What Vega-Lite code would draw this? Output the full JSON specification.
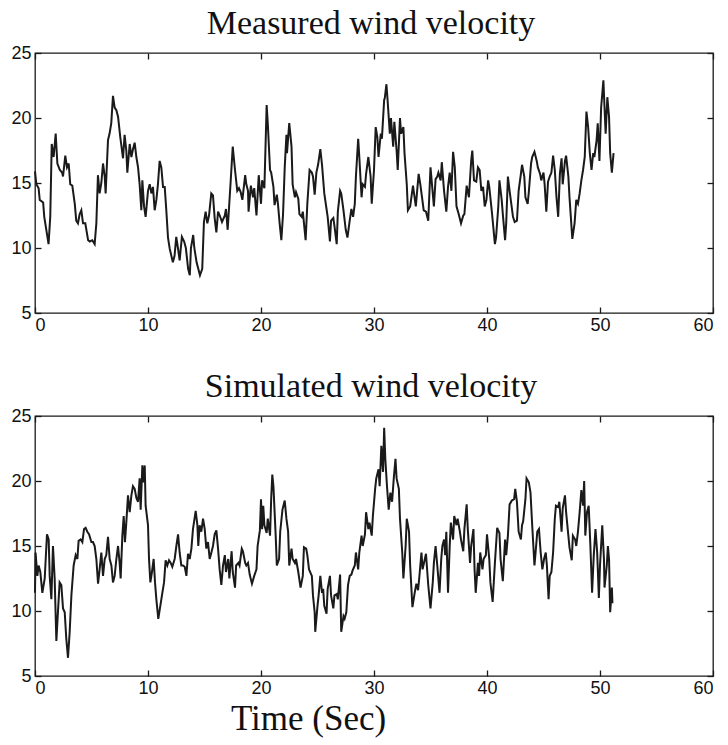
{
  "$schema": "https://vega.github.io/schema/vega-lite/v6.json",
  "background": "white",
  "padding": {"left": 10, "top": 6, "right": 8, "bottom": 5},
  "config": {
    "view": {"stroke": "#1a1a1a", "strokeWidth": 1.3},
    "axis": {"grid": false, "domain": false, "tickColor": "#1a1a1a", "tickSize": -6, "tickWidth": 1.3, "labelFont": "Liberation Sans", "labelFontSize": 18, "labelColor": "#111", "titleFont": "Liberation Serif", "titleFontSize": 35, "titleFontWeight": "normal", "titleColor": "#111"},
    "title": {"font": "Liberation Serif", "fontSize": 34, "fontWeight": "normal", "color": "#111", "offset": 3, "dx": -3},
    "concat": {"spacing": 34}
  },
  "datasets": {
    "measured": [
      {"t":0,"v":15.9},{"t":0.12,"v":14.9},{"t":0.32,"v":14.6},{"t":0.42,"v":13.7},{"t":0.72,"v":13.5},{"t":0.82,"v":12.4},{"t":1.2,"v":10.3},{"t":1.35,"v":12.4},{"t":1.48,"v":18.0},{"t":1.65,"v":17.0},{"t":1.83,"v":18.8},{"t":1.98,"v":16.5},{"t":2.2,"v":16.0},{"t":2.4,"v":15.8},{"t":2.48,"v":15.5},{"t":2.68,"v":17.1},{"t":2.83,"v":16.2},{"t":2.98,"v":16.5},{"t":3.12,"v":14.9},{"t":3.3,"v":14.8},{"t":3.52,"v":13.4},{"t":3.65,"v":12.1},{"t":3.8,"v":11.9},{"t":3.95,"v":12.6},{"t":4.1,"v":12.9},{"t":4.25,"v":11.9},{"t":4.45,"v":11.9},{"t":4.7,"v":10.6},{"t":4.85,"v":10.5},{"t":5.07,"v":10.6},{"t":5.28,"v":10.3},{"t":5.43,"v":11.9},{"t":5.57,"v":15.6},{"t":5.72,"v":14.2},{"t":5.87,"v":15.0},{"t":6.02,"v":16.5},{"t":6.17,"v":15.5},{"t":6.25,"v":14.2},{"t":6.46,"v":18.3},{"t":6.6,"v":18.8},{"t":6.75,"v":19.6},{"t":6.9,"v":21.7},{"t":7.05,"v":20.8},{"t":7.2,"v":20.6},{"t":7.35,"v":20.1},{"t":7.55,"v":18.5},{"t":7.79,"v":16.9},{"t":7.93,"v":18.7},{"t":8.08,"v":17.5},{"t":8.17,"v":15.8},{"t":8.38,"v":18.0},{"t":8.53,"v":17.0},{"t":8.67,"v":17.6},{"t":8.82,"v":18.1},{"t":8.97,"v":17.0},{"t":9.12,"v":16.2},{"t":9.26,"v":14.9},{"t":9.41,"v":12.9},{"t":9.5,"v":15.2},{"t":9.65,"v":13.2},{"t":9.79,"v":12.4},{"t":10.0,"v":14.4},{"t":10.15,"v":14.9},{"t":10.3,"v":14.2},{"t":10.44,"v":14.7},{"t":10.59,"v":12.9},{"t":10.74,"v":13.7},{"t":10.88,"v":14.9},{"t":11.03,"v":16.7},{"t":11.18,"v":16.2},{"t":11.33,"v":14.7},{"t":11.48,"v":14.7},{"t":11.62,"v":12.9},{"t":11.77,"v":10.8},{"t":11.92,"v":9.95},
      {"t":12.2,"v":8.9},{"t":12.35,"v":9.4},{"t":12.5,"v":10.85},{"t":12.65,"v":10.0},{"t":12.8,"v":9.05},{"t":13.0,"v":10.85},{"t":13.2,"v":10.5},{"t":13.35,"v":10.0},{"t":13.55,"v":8.4},{"t":13.7,"v":7.9},{"t":13.8,"v":10.0},{"t":14.0,"v":11.0},{"t":14.1,"v":10.0},{"t":14.3,"v":8.9},{"t":14.6,"v":7.9},{"t":14.8,"v":8.4},{"t":14.95,"v":12.0},{"t":15.1,"v":12.8},{"t":15.25,"v":11.9},{"t":15.4,"v":12.5},{"t":15.6,"v":14.2},{"t":15.75,"v":14.05},{"t":15.9,"v":12.3},{"t":16.05,"v":11.2},{"t":16.2,"v":12.8},{"t":16.35,"v":12.5},{"t":16.55,"v":12.0},{"t":16.8,"v":12.5},
      {"t":16.9,"v":13.0},{"t":17.05,"v":11.4},{"t":17.3,"v":14.9},{"t":17.5,"v":17.8},{"t":17.7,"v":16.0},{"t":17.9,"v":14.4},{"t":18.05,"v":14.6},{"t":18.2,"v":14.3},{"t":18.35,"v":13.7},{"t":18.6,"v":15.6},{"t":18.7,"v":14.9},{"t":18.85,"v":14.4},{"t":18.9,"v":12.8},{"t":19.1,"v":14.8},{"t":19.3,"v":13.9},{"t":19.4,"v":14.6},{"t":19.6,"v":12.5},{"t":19.8,"v":15.6},{"t":20.0,"v":13.4},{"t":20.1,"v":15.2},{"t":20.3,"v":14.6},{"t":20.5,"v":21.0},{"t":20.6,"v":19.6},{"t":20.8,"v":16.0},{"t":20.9,"v":15.8},{"t":21.1,"v":14.7},{"t":21.2,"v":13.3},{"t":21.4,"v":14.1},{"t":21.5,"v":13.4},{"t":21.65,"v":11.9},{"t":21.8,"v":10.6},{"t":21.95,"v":12.6},{"t":22.1,"v":16.2},{"t":22.25,"v":18.7},{"t":22.3,"v":17.3},{"t":22.5,"v":19.6},{"t":22.7,"v":17.8},{"t":22.8,"v":14.9},{"t":23.0,"v":13.9},{"t":23.1,"v":14.3},{"t":23.3,"v":13.8},{"t":23.4,"v":12.6},{"t":23.6,"v":12.4},{"t":23.7,"v":12.8},{"t":23.95,"v":10.6},{"t":24.1,"v":13.4},{"t":24.3,"v":16.0},{"t":24.5,"v":15.8},{"t":24.6,"v":15.5},{"t":24.75,"v":14.1},{"t":24.9,"v":15.8},{"t":25.05,"v":16.4},{"t":25.25,"v":17.6},{"t":25.4,"v":16.4},{"t":25.6,"v":14.2},{"t":25.8,"v":13.0},{"t":25.9,"v":12.4},{"t":26.1,"v":10.5},{"t":26.2,"v":12.1},{"t":26.4,"v":12.3},{"t":26.5,"v":11.7},{"t":26.7,"v":10.3},{"t":26.8,"v":12.8},{"t":27.0,"v":14.4},{"t":27.1,"v":14.2},{"t":27.3,"v":12.9},{"t":27.5,"v":11.4},{"t":27.65,"v":10.8},{"t":27.85,"v":12.1},{"t":28.0,"v":13.0},{"t":28.15,"v":12.4},{"t":28.3,"v":13.4},{"t":28.4,"v":15.5},{"t":28.6,"v":18.4},{"t":28.7,"v":17.0},{"t":28.9,"v":13.9},{"t":29.0,"v":14.9},{"t":29.2,"v":14.7},{"t":29.3,"v":15.7},{"t":29.5,"v":17.0},{"t":29.7,"v":15.5},{"t":29.8,"v":13.4},{"t":30.0,"v":16.0},{"t":30.15,"v":19.3},{"t":30.3,"v":18.5},{"t":30.4,"v":17.0},{"t":30.6,"v":18.8},{"t":30.7,"v":18.4},{"t":30.9,"v":21.4},{"t":30.95,"v":21.5},{"t":31.1,"v":22.6},{"t":31.2,"v":21.4},{"t":31.4,"v":18.8},{"t":31.5,"v":20.0},{"t":31.7,"v":17.8},{"t":31.8,"v":19.7},{"t":32.0,"v":17.5},{"t":32.1,"v":16.0},{"t":32.3,"v":20.0},{"t":32.4,"v":18.8},{"t":32.6,"v":19.3},{"t":32.7,"v":17.3},{"t":32.9,"v":14.9},{"t":33.0,"v":12.9},{"t":33.2,"v":13.2},
      {"t":33.45,"v":14.8},{"t":33.7,"v":13.2},{"t":33.95,"v":15.7},{"t":34.1,"v":14.9},{"t":34.25,"v":13.9},{"t":34.4,"v":12.9},{"t":34.6,"v":12.8},{"t":34.8,"v":12.1},{"t":35.0,"v":16.2},{"t":35.1,"v":15.2},{"t":35.3,"v":13.2},{"t":35.45,"v":15.3},{"t":35.6,"v":15.5},{"t":35.7,"v":15.8},{"t":35.9,"v":15.2},{"t":36.0,"v":16.6},{"t":36.2,"v":14.4},{"t":36.4,"v":12.8},{"t":36.55,"v":14.7},{"t":36.7,"v":15.8},{"t":36.85,"v":14.4},{"t":37.0,"v":17.4},{"t":37.15,"v":16.2},{"t":37.3,"v":13.2},{"t":37.5,"v":12.6},{"t":37.7,"v":11.9},{"t":37.9,"v":12.5},{"t":38.0,"v":12.6},{"t":38.2,"v":14.8},{"t":38.4,"v":13.9},{"t":38.6,"v":16.7},{"t":38.7,"v":17.5},{"t":38.85,"v":15.2},{"t":39.05,"v":15.1},{"t":39.2,"v":16.2},{"t":39.35,"v":16.0},{"t":39.5,"v":14.4},{"t":39.65,"v":14.7},{"t":39.8,"v":13.2},{"t":39.95,"v":13.7},{"t":40.1,"v":15.2},{"t":40.2,"v":14.7},{"t":40.45,"v":12.6},{"t":40.7,"v":10.3},{"t":40.8,"v":10.8},{"t":41.0,"v":13.2},{"t":41.1,"v":15.2},{"t":41.3,"v":13.7},{"t":41.4,"v":12.6},{"t":41.6,"v":10.6},{"t":41.7,"v":11.9},{"t":41.85,"v":15.5},{"t":42.0,"v":14.4},{"t":42.15,"v":13.4},{"t":42.3,"v":12.4},{"t":42.45,"v":12.0},{"t":42.65,"v":12.1},{"t":42.8,"v":14.4},{"t":43.0,"v":15.7},{"t":43.1,"v":16.4},{"t":43.3,"v":15.5},{"t":43.4,"v":13.9},{"t":43.6,"v":13.4},{"t":43.7,"v":14.3},{"t":43.9,"v":16.5},{"t":44.0,"v":17.0},{"t":44.2,"v":17.4},{"t":44.4,"v":16.7},{"t":44.5,"v":16.2},{"t":44.7,"v":15.7},{"t":44.8,"v":15.2},{"t":45.0,"v":15.8},{"t":45.1,"v":14.9},{"t":45.25,"v":12.8},{"t":45.4,"v":15.1},{"t":45.55,"v":15.5},{"t":45.7,"v":15.8},{"t":45.85,"v":17.1},{"t":46.0,"v":16.0},{"t":46.15,"v":13.9},{"t":46.3,"v":12.4},{"t":46.45,"v":15.7},{"t":46.6,"v":16.9},{"t":46.7,"v":14.9},{"t":46.9,"v":16.7},{"t":47.0,"v":17.1},{"t":47.2,"v":15.5},{"t":47.3,"v":13.9},{"t":47.55,"v":10.7},{"t":47.75,"v":11.9},{"t":47.9,"v":13.7},{"t":48.05,"v":13.4},{"t":48.2,"v":14.2},{"t":48.35,"v":15.2},{"t":48.5,"v":16.0},{"t":48.65,"v":17.0},{"t":48.8,"v":20.5},{"t":48.95,"v":19.3},{"t":49.1,"v":17.3},{"t":49.25,"v":16.0},{"t":49.4,"v":17.3},{"t":49.5,"v":17.0},{"t":49.7,"v":18.3},{"t":49.8,"v":19.6},{"t":49.95,"v":16.7},{"t":50.1,"v":20.8},{"t":50.3,"v":22.9},{"t":50.4,"v":20.8},{"t":50.5,"v":18.8},{"t":50.65,"v":21.6},{"t":50.8,"v":20.1},{"t":50.9,"v":17.3},{"t":51.05,"v":15.8},{"t":51.2,"v":17.3}
    ],
    "simulated": [
      {"t":0,"v":11.4},{"t":0.05,"v":14.5},{"t":0.12,"v":13.7},{"t":0.21,"v":12.7},{"t":0.32,"v":13.5},{"t":0.47,"v":13.0},{"t":0.65,"v":11.4},{"t":0.86,"v":12.5},{"t":1.06,"v":15.9},{"t":1.21,"v":15.5},{"t":1.3,"v":12.7},{"t":1.45,"v":10.9},{"t":1.59,"v":15.0},{"t":1.74,"v":12.5},{"t":1.89,"v":7.7},{"t":2.03,"v":9.9},{"t":2.18,"v":12.2},{"t":2.33,"v":12.0},{"t":2.48,"v":10.2},{"t":2.63,"v":9.9},{"t":2.77,"v":7.85},{"t":2.92,"v":6.4},{"t":3.07,"v":8.4},{"t":3.22,"v":11.2},{"t":3.42,"v":13.5},{"t":3.6,"v":14.3},{"t":3.75,"v":14.0},{"t":3.86,"v":15.4},{"t":4.04,"v":15.5},{"t":4.19,"v":15.3},{"t":4.34,"v":16.3},{"t":4.48,"v":16.4},{"t":4.63,"v":16.1},{"t":4.78,"v":15.9},{"t":4.99,"v":15.3},{"t":5.13,"v":15.3},{"t":5.28,"v":15.0},{"t":5.43,"v":14.0},{"t":5.58,"v":12.1},{"t":5.72,"v":13.2},{"t":5.87,"v":14.5},{"t":6.02,"v":12.7},{"t":6.17,"v":14.0},{"t":6.31,"v":14.3},{"t":6.46,"v":15.7},{"t":6.61,"v":14.0},{"t":6.76,"v":13.5},{"t":6.9,"v":12.2},{"t":7.05,"v":12.7},{"t":7.2,"v":14.0},{"t":7.35,"v":15.0},{"t":7.49,"v":13.7},{"t":7.58,"v":12.5},{"t":7.73,"v":15.8},{"t":7.85,"v":17.3},{"t":7.96,"v":15.3},{"t":8.08,"v":16.8},{"t":8.23,"v":18.9},{"t":8.38,"v":17.6},{"t":8.53,"v":18.9},{"t":8.67,"v":19.6},{"t":8.82,"v":19.4},{"t":8.97,"v":18.7},{"t":9.12,"v":18.4},{"t":9.26,"v":20.2},{"t":9.35,"v":17.8},{"t":9.5,"v":21.2},{"t":9.62,"v":19.9},{"t":9.71,"v":21.2},{"t":9.79,"v":18.1},{"t":10.0,"v":16.6},{"t":10.09,"v":14.0},{"t":10.21,"v":12.2},{"t":10.35,"v":13.0},{"t":10.5,"v":14.0},{"t":10.62,"v":12.2},{"t":10.74,"v":10.9},{"t":10.91,"v":9.4},{"t":11.09,"v":10.4},{"t":11.27,"v":11.4},{"t":11.42,"v":12.2},{"t":11.56,"v":13.9},{"t":11.71,"v":13.5},{"t":11.86,"v":13.9},{"t":12.01,"v":13.7},{"t":12.15,"v":13.4},{"t":12.36,"v":14.0},{"t":12.51,"v":15.0},{"t":12.66,"v":15.9},{"t":12.8,"v":14.5},{"t":12.95,"v":13.5},{"t":13.1,"v":13.5},{"t":13.25,"v":13.4},{"t":13.4,"v":12.7},{"t":13.54,"v":14.4},{"t":13.69,"v":14.0},{"t":13.84,"v":14.8},{"t":13.98,"v":16.3},{"t":14.22,"v":17.7},{"t":14.37,"v":16.6},{"t":14.45,"v":15.0},{"t":14.57,"v":16.6},{"t":14.72,"v":16.1},{"t":14.87,"v":17.1},{"t":15.02,"v":16.3},{"t":15.16,"v":14.8},{"t":15.31,"v":15.3},{"t":15.46,"v":14.0},{"t":15.61,"v":14.5},{"t":15.75,"v":15.0},{"t":15.9,"v":15.9},{"t":16.05,"v":16.2},{"t":16.2,"v":14.8},{"t":16.34,"v":13.2},{"t":16.49,"v":12.0},
      {"t":16.64,"v":13.5},{"t":16.8,"v":14.3},{"t":16.9,"v":13.0},{"t":17.1,"v":14.0},{"t":17.2,"v":12.5},{"t":17.4,"v":14.6},{"t":17.5,"v":13.0},{"t":17.7,"v":11.8},{"t":17.8,"v":13.5},{"t":18.0,"v":13.7},{"t":18.1,"v":13.5},{"t":18.3,"v":14.8},{"t":18.4,"v":14.6},{"t":18.6,"v":13.7},{"t":18.7,"v":13.5},{"t":18.85,"v":13.7},{"t":19.0,"v":12.8},{"t":19.2,"v":12.1},{"t":19.4,"v":12.7},{"t":19.6,"v":13.2},{"t":19.7,"v":15.0},{"t":19.9,"v":16.2},{"t":20.0,"v":18.6},{"t":20.1,"v":16.3},{"t":20.2,"v":18.1},{"t":20.3,"v":16.6},{"t":20.5,"v":16.0},{"t":20.6,"v":17.1},{"t":20.8,"v":15.8},{"t":20.9,"v":18.6},{"t":21.0,"v":20.5},{"t":21.1,"v":19.6},{"t":21.3,"v":15.8},{"t":21.4,"v":13.5},{"t":21.6,"v":14.0},{"t":21.7,"v":16.1},{"t":21.9,"v":17.8},{"t":22.1,"v":18.5},{"t":22.25,"v":17.1},{"t":22.4,"v":16.1},{"t":22.5,"v":13.5},{"t":22.7,"v":14.8},{"t":22.8,"v":14.0},{"t":23.0,"v":13.7},{"t":23.1,"v":14.0},{"t":23.3,"v":13.0},{"t":23.5,"v":11.8},{"t":23.7,"v":12.7},{"t":23.8,"v":14.9},{"t":24.0,"v":14.8},{"t":24.1,"v":14.3},{"t":24.25,"v":13.2},{"t":24.5,"v":12.7},{"t":24.6,"v":11.2},{"t":24.75,"v":9.9},{"t":24.8,"v":8.4},{"t":25.0,"v":10.4},{"t":25.1,"v":11.2},{"t":25.25,"v":12.7},{"t":25.4,"v":11.4},{"t":25.5,"v":11.7},{"t":25.6,"v":10.4},{"t":25.8,"v":9.8},{"t":25.9,"v":11.7},{"t":26.1,"v":12.7},{"t":26.2,"v":11.2},{"t":26.4,"v":10.2},{"t":26.5,"v":11.2},{"t":26.7,"v":11.3},{"t":26.8,"v":10.9},{"t":27.0,"v":12.8},{"t":27.1,"v":8.4},{"t":27.3,"v":9.6},{"t":27.4,"v":9.4},{"t":27.55,"v":9.9},{"t":27.7,"v":12.0},{"t":27.85,"v":12.7},{"t":28.0,"v":12.8},{"t":28.1,"v":13.1},{"t":28.3,"v":13.5},{"t":28.4,"v":14.5},{"t":28.6,"v":13.2},{"t":28.7,"v":14.5},{"t":28.9,"v":15.8},{"t":29.0,"v":15.0},{"t":29.2,"v":15.9},{"t":29.3,"v":17.6},{"t":29.5,"v":16.3},{"t":29.6,"v":16.8},{"t":29.8,"v":15.8},{"t":29.9,"v":17.3},{"t":30.1,"v":19.4},{"t":30.2,"v":20.2},{"t":30.4,"v":20.9},{"t":30.5,"v":19.6},{"t":30.65,"v":22.7},{"t":30.8,"v":20.7},{"t":30.9,"v":24.1},{"t":31.0,"v":21.7},{"t":31.15,"v":19.6},{"t":31.3,"v":17.8},{"t":31.45,"v":19.1},{"t":31.6,"v":18.4},{"t":31.75,"v":20.2},{"t":31.9,"v":21.7},{"t":32.0,"v":20.2},{"t":32.2,"v":19.4},{"t":32.3,"v":17.1},{"t":32.5,"v":14.5},{"t":32.6,"v":12.5},{"t":32.8,"v":15.0},{"t":32.9,"v":17.1},{"t":33.1,"v":16.1},{"t":33.2,"v":13.5},{"t":33.4,"v":10.3},
      {"t":33.6,"v":11.4},{"t":33.75,"v":12.1},{"t":33.9,"v":11.6},{"t":34.0,"v":12.5},{"t":34.2,"v":14.5},{"t":34.3,"v":13.2},{"t":34.5,"v":14.0},{"t":34.6,"v":14.4},{"t":34.8,"v":12.0},{"t":35.0,"v":10.2},{"t":35.2,"v":12.2},{"t":35.3,"v":13.7},{"t":35.45,"v":15.0},{"t":35.6,"v":13.5},{"t":35.8,"v":11.4},{"t":35.95,"v":14.0},{"t":36.05,"v":15.0},{"t":36.2,"v":15.5},{"t":36.3,"v":14.3},{"t":36.4,"v":16.1},{"t":36.55,"v":11.4},{"t":36.7,"v":15.0},{"t":36.8,"v":16.8},{"t":37.0,"v":15.5},{"t":37.1,"v":17.3},{"t":37.3,"v":16.6},{"t":37.4,"v":17.1},{"t":37.6,"v":16.1},{"t":37.7,"v":15.5},{"t":37.9,"v":14.6},{"t":38.0,"v":16.3},{"t":38.2,"v":18.2},{"t":38.3,"v":16.3},{"t":38.5,"v":13.7},{"t":38.6,"v":15.0},{"t":38.8,"v":16.3},{"t":38.9,"v":13.2},{"t":39.0,"v":11.4},{"t":39.2,"v":13.7},{"t":39.3,"v":12.7},{"t":39.4,"v":14.5},{"t":39.6,"v":13.2},{"t":39.7,"v":14.0},{"t":39.9,"v":14.3},{"t":40.0,"v":15.9},{"t":40.2,"v":14.0},{"t":40.3,"v":12.2},{"t":40.5,"v":10.7},{"t":40.7,"v":13.7},{"t":40.9,"v":16.4},{"t":41.1,"v":16.0},{"t":41.2,"v":14.0},{"t":41.4,"v":12.3},{"t":41.6,"v":15.5},{"t":41.7,"v":14.3},{"t":41.85,"v":15.8},{"t":42.0,"v":18.2},{"t":42.2,"v":18.5},{"t":42.4,"v":18.6},{"t":42.5,"v":19.4},{"t":42.65,"v":18.4},{"t":42.8,"v":16.1},{"t":43.0,"v":15.5},{"t":43.1,"v":16.6},{"t":43.2,"v":16.9},{"t":43.4,"v":18.6},{"t":43.5,"v":20.2},{"t":43.7,"v":19.9},{"t":43.85,"v":19.1},{"t":44.0,"v":16.6},{"t":44.2,"v":13.5},{"t":44.3,"v":14.5},{"t":44.45,"v":16.1},{"t":44.6,"v":16.3},{"t":44.75,"v":14.5},{"t":44.9,"v":13.2},{"t":45.05,"v":14.0},{"t":45.2,"v":14.5},{"t":45.3,"v":13.5},{"t":45.45,"v":10.9},{"t":45.55,"v":12.7},{"t":45.7,"v":13.0},{"t":45.85,"v":14.5},{"t":46.0,"v":17.1},{"t":46.1,"v":18.1},{"t":46.3,"v":18.0},{"t":46.4,"v":18.4},{"t":46.6,"v":16.1},{"t":46.7,"v":17.9},{"t":46.9,"v":18.9},{"t":47.0,"v":17.6},{"t":47.2,"v":15.8},{"t":47.3,"v":14.9},{"t":47.5,"v":13.9},{"t":47.6,"v":15.8},{"t":47.8,"v":15.5},{"t":47.9,"v":15.0},{"t":48.05,"v":16.1},{"t":48.2,"v":17.6},{"t":48.35,"v":19.3},{"t":48.5,"v":18.1},{"t":48.6,"v":20.0},{"t":48.7,"v":15.8},{"t":48.85,"v":17.6},{"t":49.0,"v":18.1},{"t":49.15,"v":15.0},{"t":49.3,"v":11.4},{"t":49.45,"v":14.3},{"t":49.6,"v":16.3},{"t":49.75,"v":14.5},{"t":49.9,"v":11.0},{"t":50.0,"v":13.5},{"t":50.2,"v":16.6},{"t":50.35,"v":14.0},{"t":50.4,"v":11.8},{"t":50.6,"v":13.5},{"t":50.7,"v":15.0},{"t":50.8,"v":14.0},{"t":50.9,"v":9.9},{"t":51.05,"v":11.8},{"t":51.1,"v":10.6}
    ]
  },
  "vconcat": [
    {
      "title": "Measured wind velocity",
      "width": 678,
      "height": 260,
      "data": {"name": "measured"},
      "layer": [
        {
          "mark": {"type": "line", "color": "#1a1a1a", "strokeWidth": 2},
          "encoding": {
            "x": {"field": "t", "type": "quantitative", "scale": {"domain": [0, 60], "nice": false}, "axis": {"values": [0, 10, 20, 30, 40, 50, 60], "title": null, "labelPadding": 9}},
            "y": {"field": "v", "type": "quantitative", "scale": {"domain": [5, 25], "nice": false}, "axis": {"values": [5, 10, 15, 20, 25], "title": null, "labelPadding": 10}}
          }
        },
        {
          "mark": {"type": "line", "opacity": 0},
          "encoding": {
            "x": {"field": "t", "type": "quantitative", "axis": {"orient": "top", "values": [0, 10, 20, 30, 40, 50, 60], "labels": false, "title": null}},
            "y": {"field": "v", "type": "quantitative", "axis": {"orient": "right", "values": [5, 10, 15, 20, 25], "labels": false, "title": null}}
          }
        }
      ],
      "resolve": {"axis": {"x": "independent", "y": "independent"}}
    },
    {
      "title": "Simulated wind velocity",
      "width": 678,
      "height": 260,
      "data": {"name": "simulated"},
      "layer": [
        {
          "mark": {"type": "line", "color": "#1a1a1a", "strokeWidth": 2},
          "encoding": {
            "x": {"field": "t", "type": "quantitative", "scale": {"domain": [0, 60], "nice": false}, "axis": {"values": [0, 10, 20, 30, 40, 50, 60], "title": "Time (Sec)", "labelPadding": 9, "titlePadding": 4, "titleX": 273}},
            "y": {"field": "v", "type": "quantitative", "scale": {"domain": [5, 25], "nice": false}, "axis": {"values": [5, 10, 15, 20, 25], "title": null, "labelPadding": 10}}
          }
        },
        {
          "mark": {"type": "line", "opacity": 0},
          "encoding": {
            "x": {"field": "t", "type": "quantitative", "axis": {"orient": "top", "values": [0, 10, 20, 30, 40, 50, 60], "labels": false, "title": null}},
            "y": {"field": "v", "type": "quantitative", "axis": {"orient": "right", "values": [5, 10, 15, 20, 25], "labels": false, "title": null}}
          }
        }
      ],
      "resolve": {"axis": {"x": "independent", "y": "independent"}}
    }
  ]
}
